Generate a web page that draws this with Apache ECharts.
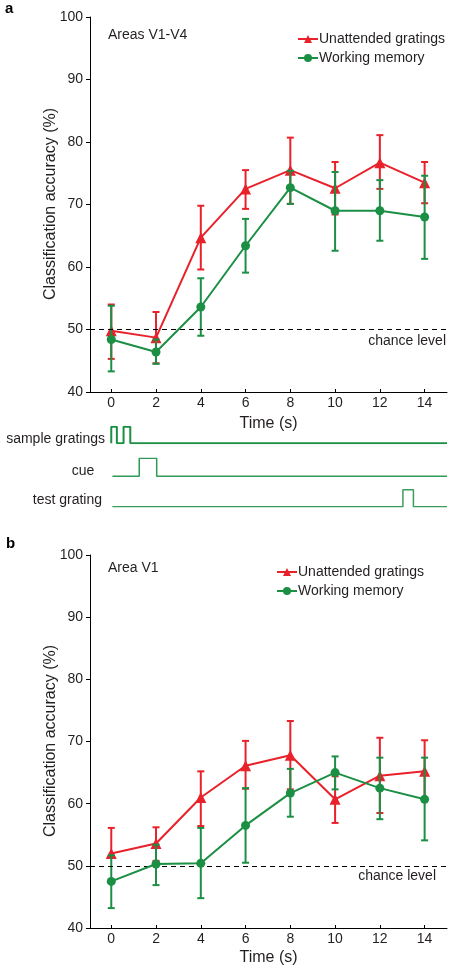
<!DOCTYPE html>
<html>
<head>
<meta charset="utf-8">
<script src="https://cdn.jsdelivr.net/npm/echarts@6.0.0/dist/echarts.min.js"></script>
<style>
html,body{margin:0;padding:0;background:#fff;}
#chart{width:454px;height:970px;}
</style>
</head>
<body>
<div id="chart"></div>
<script>
// ---- Data ----
const times = [0, 2, 4, 6, 8, 10, 12, 14];
const xTickValues = [0, 2, 4, 6, 8, 10, 12, 14];

// Panel a: Areas V1-V4
const aRedMean   = [49.8, 48.7, 64.7, 72.5, 75.5, 72.6, 76.7, 73.5];
const aRedLow    = [45.3, 44.6, 59.6, 69.3, 70.1, 68.4, 72.5, 70.2];
const aRedHigh   = [54.0, 52.8, 69.8, 75.5, 80.7, 76.8, 81.1, 76.8];
const aGreenMean = [48.4, 46.4, 53.6, 63.4, 72.7, 69.0, 69.0, 68.0];
const aGreenLow  = [43.3, 44.5, 49.0, 59.1, 70.1, 62.6, 64.2, 61.3];
const aGreenHigh = [53.8, 48.4, 58.2, 67.7, 75.4, 75.2, 73.9, 74.6];

// Panel b: Area V1
const bRedMean   = [52.0, 53.6, 61.0, 66.1, 67.8, 60.7, 64.5, 65.2];
const bRedLow    = [51.5, 50.8, 56.4, 62.4, 62.3, 56.9, 58.5, 60.4];
const bRedHigh   = [56.1, 56.2, 65.2, 70.1, 73.3, 64.4, 70.6, 70.2];
const bGreenMean = [47.5, 50.3, 50.4, 56.5, 61.7, 65.0, 62.5, 60.7];
const bGreenLow  = [43.2, 46.9, 44.8, 50.5, 57.9, 62.3, 57.5, 54.1];
const bGreenHigh = [51.7, 53.4, 56.1, 62.5, 65.6, 67.6, 67.4, 67.4];

const chanceLevel = 50;

// Timeline (time, on/off)
const sampleT = [0, 0, 0.25, 0.25, 0.55, 0.55, 0.85, 0.85, 15];
const sampleV = [0, 1, 1, 0, 0, 1, 1, 0, 0];
const cueT = [0.05, 1.25, 1.25, 2.03, 2.03, 15];
const cueV = [0, 0, 1, 1, 0, 0];
const testT = [0.05, 13.03, 13.03, 13.5, 13.5, 15];
const testV = [0, 0, 1, 1, 0, 0];

const seriesNames = ['Unattended gratings', 'Working memory'];
const yAxisTitle = 'Classification accuracy (%)';

// ---- Styles ----
const RED = '#e8212a';
const GREEN = '#1b8f44';
const TXT = '#231f20';
const FONT = '"Liberation Sans", Arial, Helvetica, sans-serif';

function zip(a, b) { return a.map((v, i) => [v, b[i]]); }
function errData(lo, hi) { return times.map((t, i) => [t, lo[i], hi[i]]); }

function errRender(color) {
  return function (params, api) {
    const x = api.value(0);
    const lo = api.coord([x, api.value(1)]);
    const hi = api.coord([x, api.value(2)]);
    const w = 3.5;
    const st = { stroke: color, lineWidth: 2 };
    return {
      type: 'group',
      children: [
        { type: 'line', shape: { x1: lo[0], y1: lo[1], x2: hi[0], y2: hi[1] }, style: st },
        { type: 'line', shape: { x1: hi[0] - w, y1: hi[1], x2: hi[0] + w, y2: hi[1] }, style: st },
        { type: 'line', shape: { x1: lo[0] - w, y1: lo[1], x2: lo[0] + w, y2: lo[1] }, style: st }
      ]
    };
  };
}

const chart = echarts.init(document.getElementById('chart'), null, { renderer: 'canvas' });

const XMIN = -0.95, XMAX = 15;

function mainX(gridIndex, nameGap) {
  return {
    type: 'value', gridIndex: gridIndex, min: XMIN, max: XMAX,
    name: 'Time (s)', nameLocation: 'middle', nameGap: nameGap,
    nameTextStyle: { fontSize: 16, color: TXT, fontFamily: FONT },
    axisLine: { show: true, onZero: false, lineStyle: { color: '#000', width: 1 } },
    axisTick: { show: true, inside: true, length: 3, customValues: xTickValues, lineStyle: { color: '#000' } },
    axisLabel: { customValues: xTickValues, fontSize: 14, color: TXT, fontFamily: FONT, margin: 4 },
    splitLine: { show: false }
  };
}
function mainY(gridIndex) {
  return {
    type: 'value', gridIndex: gridIndex, min: 40, max: 100, interval: 10,
    axisLine: { show: true, onZero: false, lineStyle: { color: '#000', width: 1 } },
    axisTick: { show: true, inside: false, length: 4, lineStyle: { color: '#000' } },
    axisLabel: { fontSize: 14, color: TXT, fontFamily: FONT, margin: 7 },
    splitLine: { show: false }
  };
}
function hiddenX(gridIndex) {
  return { type: 'value', gridIndex: gridIndex, min: XMIN, max: XMAX, show: false, splitLine: { show: false } };
}
function hiddenY(gridIndex) {
  return { type: 'value', gridIndex: gridIndex, min: 0, max: 1, show: false, splitLine: { show: false } };
}

function panelSeries(axisIdx, rMean, rLo, rHi, gMean, gLo, gHi) {
  return [
    {
      type: 'custom', name: 'err-red', xAxisIndex: axisIdx, yAxisIndex: axisIdx,
      renderItem: errRender(RED), data: errData(rLo, rHi), encode: { x: 0, y: [1, 2] }, z: 2, silent: true
    },
    {
      type: 'line', name: seriesNames[0], xAxisIndex: axisIdx, yAxisIndex: axisIdx,
      data: zip(times, rMean), symbol: 'triangle', symbolSize: 11,
      lineStyle: { color: RED, width: 2 }, itemStyle: { color: RED }, z: 3
    },
    {
      type: 'custom', name: 'err-green', xAxisIndex: axisIdx, yAxisIndex: axisIdx,
      renderItem: errRender(GREEN), data: errData(gLo, gHi), encode: { x: 0, y: [1, 2] }, z: 4, silent: true
    },
    {
      type: 'line', name: seriesNames[1], xAxisIndex: axisIdx, yAxisIndex: axisIdx,
      data: zip(times, gMean), symbol: 'circle', symbolSize: 9,
      lineStyle: { color: GREEN, width: 2 }, itemStyle: { color: GREEN }, z: 5,
      markLine: {
        silent: true, symbol: ['none', 'none'], animation: false,
        label: { show: false },
        lineStyle: { color: '#000', width: 1, type: [5, 4] },
        data: [{ yAxis: chanceLevel }]
      }
    }
  ];
}

function timelineSeries(idx, tArr, vArr, color, width) {
  return {
    type: 'line', name: 'tl' + idx, xAxisIndex: idx, yAxisIndex: idx,
    data: zip(tArr, vArr), symbol: 'none', silent: true,
    lineStyle: { color: color, width: width }
  };
}

const legendBase = {
  orient: 'vertical', itemWidth: 20, itemHeight: 10, itemGap: 5,
  textStyle: { fontSize: 14, color: TXT, fontFamily: FONT, padding: [0, 0, 0, -4] },
  data: seriesNames, selectedMode: false
};

const option = {
  animation: false,
  backgroundColor: '#fff',
  grid: [
    { left: 90, width: 357, top: 17, height: 375 },
    { left: 90, width: 357, top: 555, height: 373 },
    { left: 90, width: 357, top: 426.7, height: 16.6 },
    { left: 90, width: 357, top: 458.3, height: 18 },
    { left: 90, width: 357, top: 489.7, height: 17 }
  ],
  xAxis: [mainX(0, 24), mainX(1, 22), hiddenX(2), hiddenX(3), hiddenX(4)],
  yAxis: [mainY(0), mainY(1), hiddenY(2), hiddenY(3), hiddenY(4)],
  legend: [
    Object.assign({}, legendBase, { left: 292, top: 27 }),
    Object.assign({}, legendBase, { left: 271, top: 560 })
  ],
  series: [
    ...panelSeries(0, aRedMean, aRedLow, aRedHigh, aGreenMean, aGreenLow, aGreenHigh),
    ...panelSeries(1, bRedMean, bRedLow, bRedHigh, bGreenMean, bGreenLow, bGreenHigh),
    timelineSeries(2, sampleT, sampleV, GREEN, 2),
    timelineSeries(3, cueT, cueV, '#2f9a55', 1.5),
    timelineSeries(4, testT, testV, '#3a9d5c', 1.5)
  ],
  graphic: [
    { type: 'text', left: 5, top: 1, style: { text: 'a', font: 'bold 15px ' + FONT, fill: '#000' } },
    { type: 'text', left: 6, top: 536, style: { text: 'b', font: 'bold 15px ' + FONT, fill: '#000' } },
    { type: 'text', x: 51, y: 204, rotation: Math.PI / 2, style: { text: yAxisTitle, font: '16px ' + FONT, fill: TXT, align: 'center', verticalAlign: 'middle' } },
    { type: 'text', x: 51, y: 741, rotation: Math.PI / 2, style: { text: yAxisTitle, font: '16px ' + FONT, fill: TXT, align: 'center', verticalAlign: 'middle' } },
    { type: 'text', x: 108, y: 35, style: { text: 'Areas V1-V4', font: '14px ' + FONT, fill: TXT, verticalAlign: 'middle' } },
    { type: 'text', x: 108, y: 568, style: { text: 'Area V1', font: '14px ' + FONT, fill: TXT, verticalAlign: 'middle' } },
    { type: 'text', x: 446, y: 341, style: { text: 'chance level', font: '14px ' + FONT, fill: TXT, align: 'right', verticalAlign: 'middle' } },
    { type: 'text', x: 436, y: 876, style: { text: 'chance level', font: '14px ' + FONT, fill: TXT, align: 'right', verticalAlign: 'middle' } },
    { type: 'text', x: 105, y: 439, style: { text: 'sample gratings', font: '14px ' + FONT, fill: TXT, align: 'right', verticalAlign: 'middle' } },
    { type: 'text', x: 83, y: 471, style: { text: 'cue', font: '14px ' + FONT, fill: TXT, align: 'center', verticalAlign: 'middle' } },
    { type: 'text', x: 102, y: 500, style: { text: 'test grating', font: '14px ' + FONT, fill: TXT, align: 'right', verticalAlign: 'middle' } }
  ]
};

chart.setOption(option);
</script>
</body>
</html>
